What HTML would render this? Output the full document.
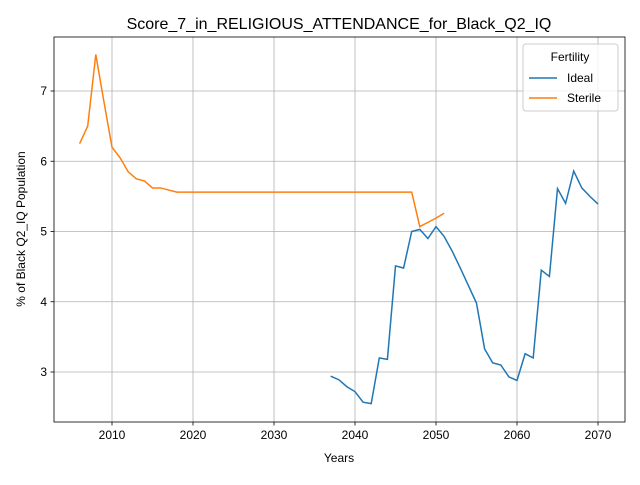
<!DOCTYPE html>
<html><head><meta charset="utf-8"><style>
body{margin:0;background:#fff}
svg{font-family:"Liberation Sans","DejaVu Sans",sans-serif}
</style></head><body>
<svg id="chart" width="640" height="480"></svg>
<script>
const idealYears=[2037,2038,2039,2040,2041,2042,2043,2044,2045,2046,2047,2048,2049,2050,2051,2052,2053,2054,2055,2056,2057,2058,2059,2060,2061,2062,2063,2064,2065,2066,2067,2068,2069,2070];
const idealValues=[2.94,2.89,2.79,2.72,2.57,2.55,3.2,3.18,4.51,4.48,5.0,5.03,4.9,5.07,4.93,4.72,4.48,4.23,3.98,3.33,3.13,3.1,2.93,2.88,3.26,3.2,4.45,4.36,5.61,5.4,5.86,5.62,5.5,5.39];
const sterileYears=[2006,2007,2008,2009,2010,2011,2012,2013,2014,2015,2016,2017,2018,2030,2047,2048,2049,2050,2051];
const sterileValues=[6.25,6.5,7.52,6.85,6.2,6.05,5.85,5.75,5.72,5.62,5.62,5.59,5.56,5.56,5.56,5.07,5.13,5.19,5.26];
const xTicks=[2010,2020,2030,2040,2050,2060,2070];
const yTicks=[3,4,5,6,7];
const NS='http://www.w3.org/2000/svg';
const svg=document.getElementById('chart');
const L=54,R=625,T=37,B=422;
const X=v=>112+(v-2010)*8.1;
const Y=v=>372-(v-3)*70.25;
function mk(t,a,p){const e=document.createElementNS(NS,t);for(const k in a)e.setAttribute(k,a[k]);(p||svg).appendChild(e);return e;}
const grid=mk('g',{});


xTicks.forEach(t=>{
 const x=X(t);
 mk('line',{x1:x,x2:x,y1:T,y2:B,stroke:'#b0b0b0','stroke-width':0.8},grid);
 mk('line',{x1:x,x2:x,y1:B,y2:B+3.5,stroke:'#000','stroke-width':0.8});
 const tx=mk('text',{x:x,y:B+17,'text-anchor':'middle','font-size':12});
 tx.textContent=t;
 
 
});
yTicks.forEach(t=>{
 const y=Y(t);
 mk('line',{x1:L,x2:R,y1:y,y2:y,stroke:'#b0b0b0','stroke-width':0.8},grid);
 mk('line',{x1:L-3.5,x2:L,y1:y,y2:y,stroke:'#000','stroke-width':0.8});
 const tx=mk('text',{x:L-7,y:y+4,'text-anchor':'end','font-size':12});
 tx.textContent=t;
 
 
});
function line(xs,ys,c,name){
 const p=mk('polyline',{points:xs.map((x,i)=>X(x)+','+Y(ys[i])).join(' '),fill:'none',stroke:c,'stroke-width':1.5});
 
 
}
line(idealYears,idealValues,'#1f77b4','ideal-line');
line(sterileYears,sterileValues,'#ff7f0e','sterile-line');
const fr=mk('rect',{x:L,y:T,width:R-L,height:B-T,fill:'none',stroke:'#000','stroke-width':0.8});


</script>
<svg width="640" height="480" style="position:absolute;left:0;top:0">
<text x="339" y="29" text-anchor="middle" font-size="16">Score_7_in_RELIGIOUS_ATTENDANCE_for_Black_Q2_IQ</text>
<text x="339" y="462" text-anchor="middle" font-size="12">Years</text>
<text transform="translate(25,229) rotate(-90)" text-anchor="middle" font-size="12">% of Black Q2_IQ Population</text>
<g>
<rect x="523" y="44" width="95" height="67" rx="3" fill="#fff" fill-opacity="0.8" stroke="#ccc"/>
<text x="570" y="61" text-anchor="middle" font-size="12">Fertility</text>
<line x1="529" x2="557" y1="78" y2="78" stroke="#1f77b4" stroke-width="1.5"/>
<text x="567" y="82" font-size="12">Ideal</text>
<line x1="529" x2="557" y1="98" y2="98" stroke="#ff7f0e" stroke-width="1.5"/>
<text x="567" y="102" font-size="12">Sterile</text>
</g>
</svg>
</body></html>
